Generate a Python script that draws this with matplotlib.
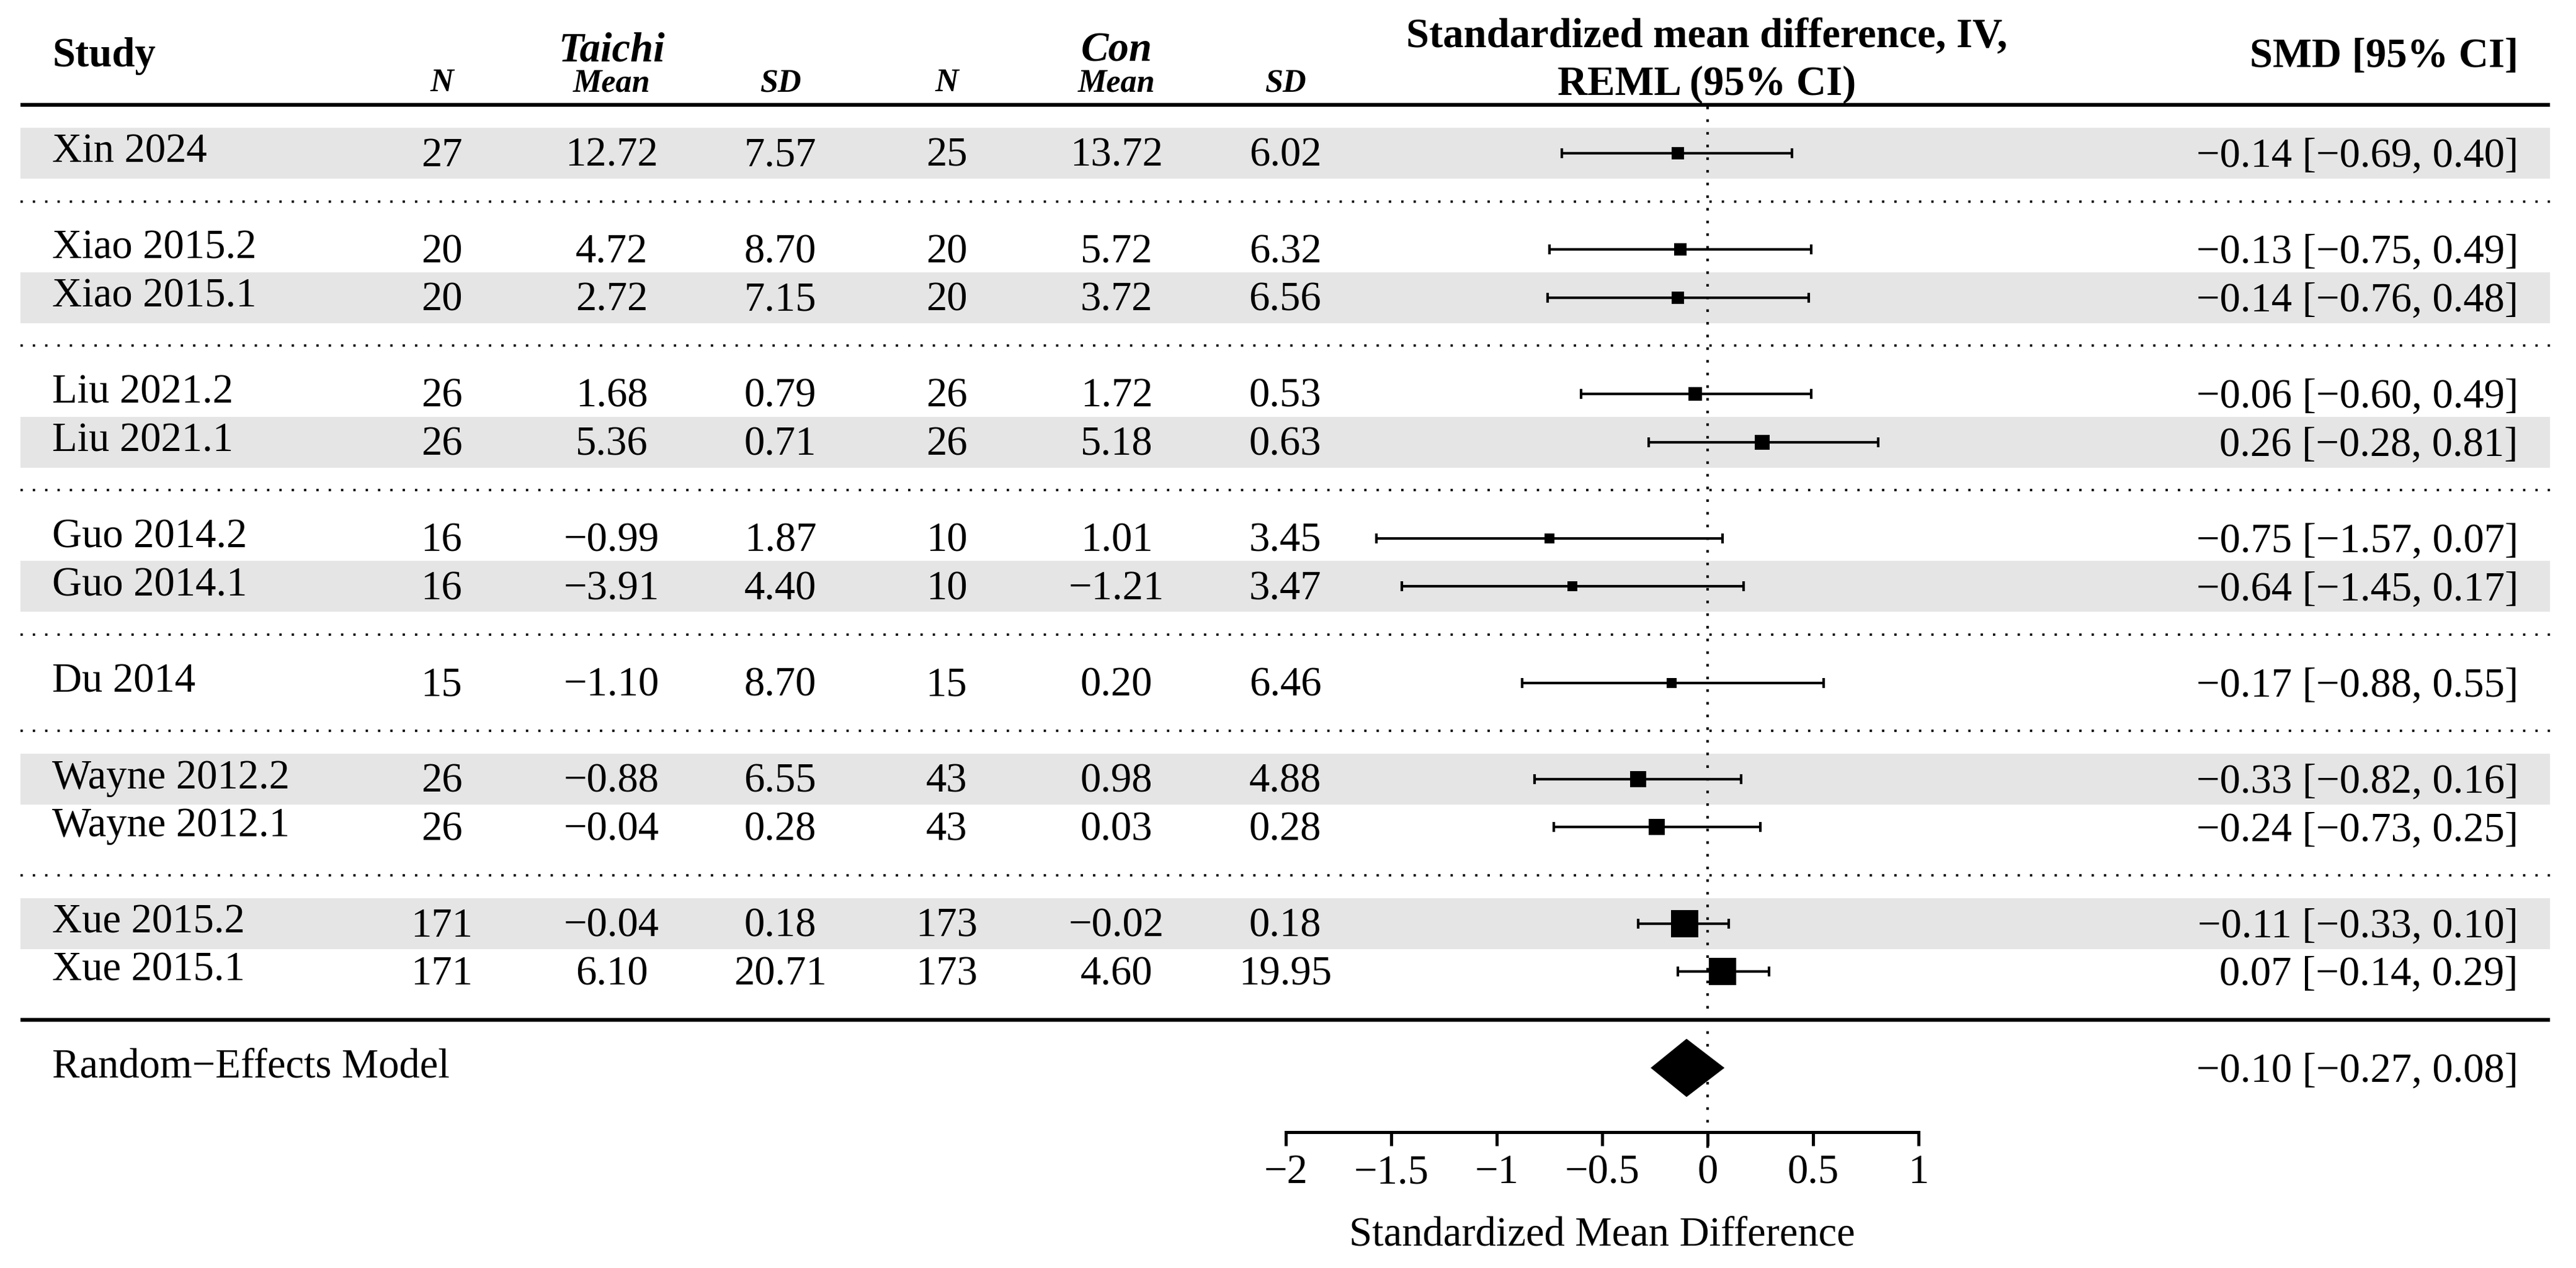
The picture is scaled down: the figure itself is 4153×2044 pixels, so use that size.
import matplotlib.pyplot as plt
import matplotlib.ticker as mticker
import numpy as np

plt.rcParams['font.family'] = ['Liberation Serif', 'DejaVu Serif']

# ---- data ----
studies = ['Xin 2024', 'Xiao 2015.2', 'Xiao 2015.1', 'Liu 2021.2', 'Liu 2021.1',
           'Guo 2014.2', 'Guo 2014.1', 'Du 2014', 'Wayne 2012.2', 'Wayne 2012.1',
           'Xue 2015.2', 'Xue 2015.1']
group = [0, 1, 1, 2, 2, 3, 3, 4, 5, 5, 6, 6]
taichi_n = [27, 20, 20, 26, 26, 16, 16, 15, 26, 26, 171, 171]
taichi_mean = [12.72, 4.72, 2.72, 1.68, 5.36, -0.99, -3.91, -1.10, -0.88, -0.04, -0.04, 6.10]
taichi_sd = [7.57, 8.70, 7.15, 0.79, 0.71, 1.87, 4.40, 8.70, 6.55, 0.28, 0.18, 20.71]
con_n = [25, 20, 20, 26, 26, 10, 10, 15, 43, 43, 173, 173]
con_mean = [13.72, 5.72, 3.72, 1.72, 5.18, 1.01, -1.21, 0.20, 0.98, 0.03, -0.02, 4.60]
con_sd = [6.02, 6.32, 6.56, 0.53, 0.63, 3.45, 3.47, 6.46, 4.88, 0.28, 0.18, 19.95]
smd = [-0.14, -0.13, -0.14, -0.06, 0.26, -0.75, -0.64, -0.17, -0.33, -0.24, -0.11, 0.07]
ci_lo = [-0.69, -0.75, -0.76, -0.60, -0.28, -1.57, -1.45, -0.88, -0.82, -0.73, -0.33, -0.14]
ci_hi = [0.40, 0.49, 0.48, 0.49, 0.81, 0.07, 0.17, 0.55, 0.16, 0.25, 0.10, 0.29]
weights = [4.5, 4.7, 5.0, 6.0, 6.6, 3.2, 3.2, 2.8, 7.8, 7.8, 24.1, 24.1]  # relative box weight (%)
pooled_label = 'Random\u2212Effects Model'
pooled_est, pooled_lo, pooled_hi = -0.10, -0.27, 0.08

# ---- layout (pixels of the output image) ----
W, H = 4153, 2044
ROW0, ROWH = 247, 77.6
LEFT, RIGHT = 33, 4111
FS = 16


def row(px):
    return (px - ROW0) / ROWH


def fmt(v):
    return f'{v:.2f}'.replace('-', '\u2212')


rows = [i + g for i, g in enumerate(group)]
seps = [rows[i] + 1 for i in range(len(rows) - 1) if group[i] != group[i + 1]]
end_row = rows[-1] + 1
pooled_row = end_row + 1

fig = plt.figure(figsize=(W / 300, H / 300), dpi=300)

# table layer spanning the whole figure, x in pixels, y in rows
tab = fig.add_axes([0, 0, 1, 1])
tab.set_xlim(0, W)
tab.set_ylim(row(H), row(0))
tab.axis('off')

for i, r in enumerate(rows):
    if i % 2 == 0:
        tab.axhspan(r - 0.528, r + 0.528, xmin=LEFT / W, xmax=RIGHT / W,
                    color='#e5e5e5', lw=0, zorder=0)

dots = (0, (1, 4.3))
tab.hlines(seps, LEFT, RIGHT, colors='black', lw=0.9, linestyles=[dots])
tab.hlines([-1, end_row], LEFT, RIGHT, colors='black', lw=1.5)

# headers
hb = dict(va='baseline', fontsize=FS, fontweight='bold')
tab.text(84, row(107), 'Study', ha='left', **hb)
tab.text(986, row(98), 'Taichi', ha='center', style='italic', **hb)
tab.text(1800, row(98), 'Con', ha='center', style='italic', **hb)
tab.text(2752, row(75), 'Standardized mean difference, IV,', ha='center', **hb)
tab.text(2752, row(153), 'REML (95% CI)', ha='center', **hb)
tab.text(4060, row(108), 'SMD [95% CI]', ha='right', **hb)

col_x = [712, 986, 1258, 1526, 1800, 2072]
sub = ['N', 'Mean', 'SD', 'N', 'Mean', 'SD']
for x, s in zip(col_x, sub):
    tab.text(x, row(147), s, ha='center', va='baseline', fontsize=12.5,
             fontweight='bold', style='italic')

# body
for i, r in enumerate(rows):
    tab.text(84, r + 0.19, studies[i], ha='left', va='baseline', fontsize=FS)
    vals = [str(taichi_n[i]), fmt(taichi_mean[i]), fmt(taichi_sd[i]),
            str(con_n[i]), fmt(con_mean[i]), fmt(con_sd[i])]
    for x, v in zip(col_x, vals):
        tab.text(x, r + 0.27, v, ha='center', va='baseline', fontsize=FS)
    tab.text(4060, r + 0.28, f'{fmt(smd[i])} [{fmt(ci_lo[i])}, {fmt(ci_hi[i])}]',
             ha='right', va='baseline', fontsize=FS)

tab.text(84, pooled_row + 0.2, pooled_label, ha='left', va='baseline', fontsize=FS)
tab.text(4060, pooled_row + 0.28,
         f'{fmt(pooled_est)} [{fmt(pooled_lo)}, {fmt(pooled_hi)}]',
         ha='right', va='baseline', fontsize=FS)

# forest panel
ax = fig.add_axes([2073 / W, 1 - 1825 / H, 1020 / W, 1825 / H])
ax.patch.set_alpha(0)
ax.set_xlim(-2, 1)
ax.set_ylim(row(1825), row(0))
for s in ['top', 'left', 'right']:
    ax.spines[s].set_visible(False)
ax.spines['bottom'].set_linewidth(1.2)
ax.set_yticks([])
ax.set_xticks(np.arange(-2, 1.01, 0.5))
ax.xaxis.set_major_formatter(mticker.FuncFormatter(lambda v, p: f'{v:g}'.replace('-', '\u2212')))
ax.tick_params(axis='x', direction='out', length=5.3, width=1.2, pad=3.1, labelsize=FS)
ax.set_xlabel('Standardized Mean Difference', fontsize=FS, labelpad=9.4)

ax.plot([0, 0], [row(172), row(1865)], color='black', lw=1.0, ls=(0, (1, 3.9)), clip_on=False)

est = np.array(smd)
ax.errorbar(est, rows, xerr=[est - np.array(ci_lo), np.array(ci_hi) - est],
            fmt='none', ecolor='black', elinewidth=1.0, capsize=2, capthick=1.0)
box_scale = 10.6 / np.sqrt(max(weights))
for x, y, w in zip(smd, rows, weights):
    ax.plot(x, y, marker='s', ms=box_scale * np.sqrt(w), mew=0, color='black', ls='none')

hh = 0.605
ax.fill([pooled_lo, pooled_est, pooled_hi, pooled_est],
        [pooled_row, pooled_row - hh, pooled_row, pooled_row + hh],
        color='black', lw=0)

fig.savefig('out.png', dpi=300)
